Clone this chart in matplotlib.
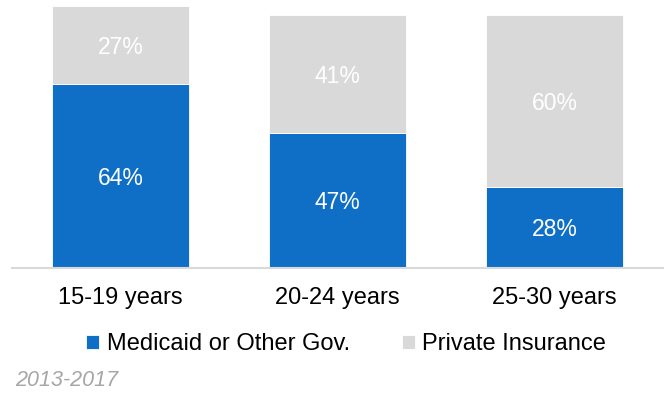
import matplotlib
matplotlib.use('Agg')
import matplotlib.pyplot as plt
import numpy as np

plt.rcParams['font.family'] = ['Liberation Sans', 'DejaVu Sans']

categories = ['15-19 years', '20-24 years', '25-30 years']
medicaid = [64, 47, 28]
private = [27, 41, 60]
series_names = ['Medicaid or Other Gov.', 'Private Insurance']
blue = '#0F6FC6'
grey = '#D9D9D9'

fig = plt.figure(figsize=(6.67, 3.93), dpi=100)
ax = fig.add_axes([0.018, 0.3193, 0.976, 0.6807])

x = np.arange(len(categories))
b1 = ax.bar(x, medicaid, width=0.63, color=blue, edgecolor='white', linewidth=0.6,
            label=series_names[0])
b2 = ax.bar(x, private, width=0.63, bottom=medicaid, color=grey, edgecolor='white',
            linewidth=0.6, label=series_names[1])

# percentage labels inside each segment
for i in range(len(categories)):
    ax.text(x[i], medicaid[i] / 2, f'{medicaid[i]}%', ha='center', va='center_baseline',
            color='white', fontsize=16.5)
    ax.text(x[i], medicaid[i] + private[i] / 2, f'{private[i]}%', ha='center',
            va='center_baseline', color='white', fontsize=16.5)

ax.set_xlim(-0.5, 2.5)
ax.set_ylim(0, 93.2)
ax.set_xticks(x)
ax.set_xticklabels(categories, fontsize=17)
ax.tick_params(axis='x', length=0, pad=14)
ax.set_yticks([])
for s in ['top', 'right', 'left']:
    ax.spines[s].set_visible(False)
ax.spines['bottom'].set_color('#D9D9D9')
ax.spines['bottom'].set_linewidth(1.5)

fig.legend(handles=[b1, b2], loc='center', bbox_to_anchor=(346 / 667, 1 - 344 / 393),
           ncol=2, frameon=False, fontsize=17, handlelength=0.55, handleheight=0.55,
           handletextpad=0.3, columnspacing=2.2)

fig.text(15 / 667, 1 - 381 / 393, '2013-2017', fontsize=15.5, style='italic',
         color='#A6A6A6', ha='left', va='center')

fig.savefig('out.png', dpi=100)
